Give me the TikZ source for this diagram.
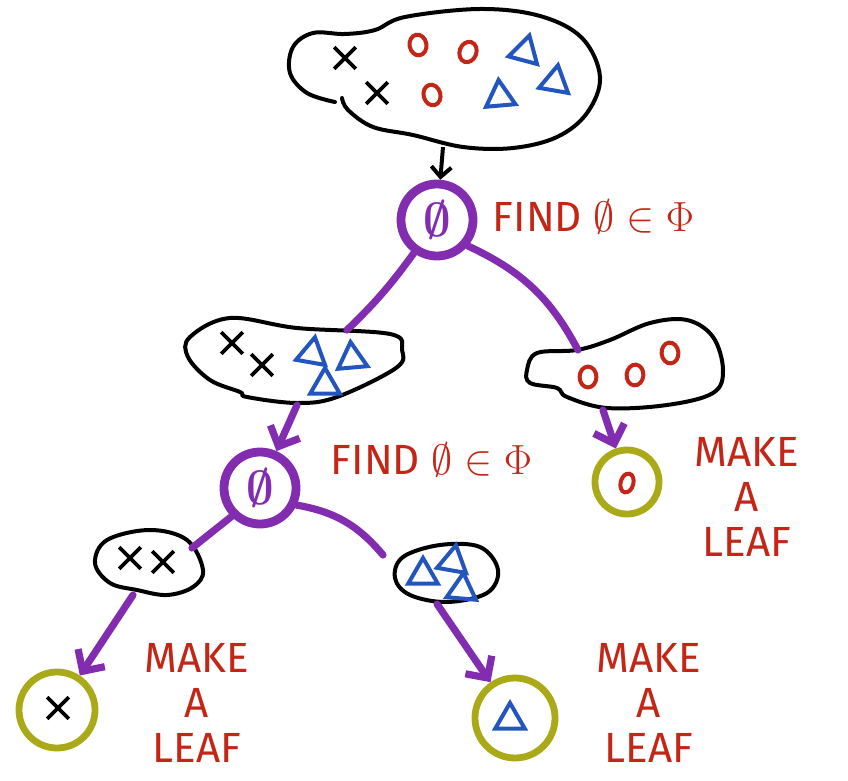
\RequirePackage{fix-cm}
\documentclass[tikz,border=0pt]{standalone}
\usepackage{fontspec}
\setsansfont{Fira Sans}
\usetikzlibrary{arrows.meta,shapes.geometric,shapes.misc}
\definecolor{chalkred}{RGB}{195,38,22}
\definecolor{chalkblue}{RGB}{35,85,190}
\definecolor{chalkpurple}{RGB}{130,45,175}
\definecolor{chalkgreen}{RGB}{170,170,25}
\tikzset{
    > = {Straight Barb[length=4mm,width=8mm]},
    blob/.style = {draw, line width=0.1cm, line cap=round, line join=round},
    cross/.style = {cross out, draw, line width=0.09cm, minimum size=0.45cm, inner sep=0pt},
    ring/.style = {ellipse, draw=chalkred, line width=0.1cm, minimum width=0.42cm, minimum height=0.52cm, inner sep=0pt},
    tri/.style = {regular polygon, regular polygon sides=3, draw=chalkblue, line width=0.1cm, minimum size=0.85cm, inner sep=0pt},
    split/.style = {circle, draw=chalkpurple, line width=0.22cm, minimum size=1.8cm, inner sep=0pt, text=chalkpurple, font=\fontsize{34}{34}\selectfont\boldmath},
    leaf/.style = {circle, draw=chalkgreen, line width=0.17cm, inner sep=0pt},
    branch/.style = {draw=chalkpurple, line width=0.18cm, line cap=round},
    note/.style = {text=chalkred, font=\sffamily\fontsize{30}{32}\selectfont, align=center}
}

\begin{document}
\begin{tikzpicture}[x=0.025cm, y=-0.025cm]
    \useasboundingbox (0,0) rectangle (848,781);

    % the sets
    \draw[blob] plot[smooth, tension=0.6] coordinates {(342,98) (348,110) (373,127) (413,135) (463,147) (513,148) (557,137) (587,113) (600,77) (582,38) (540,16) (480,9) (405,17) (375,30) (345,34) (313,33) (293,47) (290,73) (307,93) (335,102)};
    \draw[blob] plot[smooth cycle, tension=0.6] coordinates {(190,337) (230,318) (297,328) (390,334) (402,350) (396,368) (337,397) (297,403) (247,397) (240,392) (210,380) (188,357)};
    \draw[blob] plot[smooth cycle, tension=0.6] coordinates {(527,370) (537,353) (577,350) (610,340) (650,323) (687,320) (713,337) (723,370) (713,393) (667,405) (607,408) (567,397) (557,388) (530,383)};
    \draw[blob] plot[smooth cycle, tension=0.6] coordinates {(95,563) (107,540) (150,530) (187,540) (203,570) (193,587) (167,595) (137,590) (110,583)};
    \draw[blob] plot[smooth cycle, tension=0.6] coordinates {(395,578) (403,557) (440,545) (480,547) (498,570) (487,593) (447,602) (410,595)};

    \coordinate (top) at (443,147);
    \coordinate (lin) at (347,330);
    \coordinate (lout) at (297,405);
    \coordinate (rin) at (578,350);
    \coordinate (rout) at (603,410);
    \coordinate (xin) at (192,548);
    \coordinate (xout) at (133,595);
    \coordinate (tin) at (383,555);
    \coordinate (tout) at (437,604);

    % points in the sets
    \foreach \p [count=\i] in {(345,58),(377,93),(232,343),(262,365),(130,558),(163,562)}
        \node[cross] (x\i) at \p {};
    \foreach \p/\r [count=\i] in {(418,45)/10,(468,52)/-20,(432,95)/15,(588,377)/0,(635,375)/-5,(670,353)/5}
        \node[ring, rotate=\r] (o\i) at \p {};
    \foreach \p/\r [count=\i] in {(525,52)/-15,(555,82)/-10,(500,97)/5,(312,354)/-10,(352,359)/5,(325,385)/0,(423,575)/0,(453,562)/-10,(462,590)/-5}
        \node[tri, rotate=\r] (t\i) at \p {};

    % splits and leaves
    \node[split] (s1) at (437,220) {$\emptyset$};
    \node[split] (s2) at (260,488) {$\emptyset$};
    \node[leaf, minimum size=1.6cm] (lo) at (627,482) {};
    \node[leaf, minimum size=1.9cm] (lx) at (57,710) {};
    \node[leaf, minimum size=2cm] (lt) at (515,718) {};
    \node[ring, minimum width=0.32cm, minimum height=0.48cm, rotate=-15] (lo1) at (627,483) {};
    \node[cross] (lx1) at (58,708) {};
    \node[tri] (lt1) at (510,720) {};

    % notes
    \node[note, anchor=west] (f1) at (488,217) {FIND $\emptyset\in\Phi$};
    \node[note, anchor=west] (f2) at (326,460) {FIND $\emptyset\in\Phi$};
    \node[note] (m1) at (747,497) {MAKE\\A\\LEAF};
    \node[note] (m2) at (197,703) {MAKE\\A\\LEAF};
    \node[note] (m3) at (649,703) {MAKE\\A\\LEAF};

    \draw[->, line width=0.1cm, >={Straight Barb[length=2.5mm,width=5mm]}] (top) -- (s1);
    \draw[branch] (s1.-125) to[bend left=5] (lin);
    \draw[branch] (s1.-40) to[out=-25, in=118] (rin);
    \draw[branch, ->] (lout) -- (s2);
    \draw[branch, ->] (rout) -- (lo);
    \draw[branch] (s2.-135) -- (xin);
    \draw[branch] (s2.-25) to[out=-10, in=130] (tin);
    \draw[branch, ->] (xout) -- (lx);
    \draw[branch, ->] (tout) -- (lt);
\end{tikzpicture}
\end{document}
